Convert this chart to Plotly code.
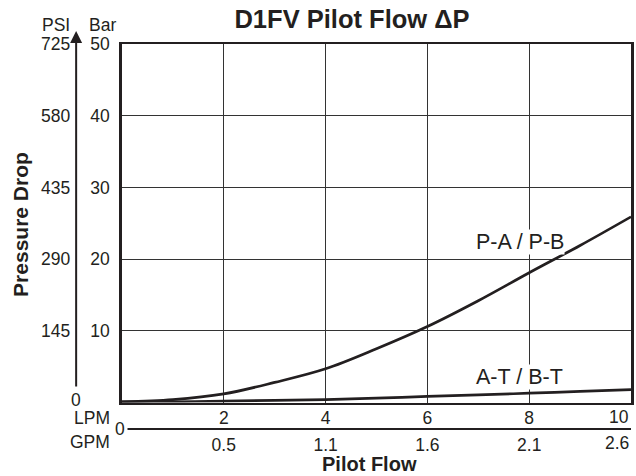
import plotly.graph_objects as go

# ---- data ----
lpm = [0, 1, 2, 3, 4, 5, 6, 7, 8, 9, 10]
pa_pb_bar = [0.1, 0.4, 1.2, 2.8, 4.7, 7.5, 10.6, 14.2, 18.1, 21.9, 25.9]
at_bt_bar = [0.1, 0.1, 0.2, 0.3, 0.4, 0.6, 0.85, 1.05, 1.3, 1.55, 1.8]

lpm_ticks = [2, 4, 6, 8, 10]
lpm_text = ["2", "4", "6", "8", "10"]
gpm_text = ["0.5", "1.1", "1.6", "2.1", "2.6"]
bar_ticks = [10, 20, 30, 40, 50]
psi_ticks = [145, 290, 435, 580, 725]

INK = "#231f20"
FONT = "Liberation Sans, Arial, Helvetica, sans-serif"

W, H = 636, 476
ML, MR, MT, MB = 2, 2, 44, 30
PW = W - ML - MR
PH = H - MT - MB


def px(x):
    return (x - ML) / PW


def py(y):
    return (H - MB - y) / PH


fig = go.Figure()
fig.add_trace(go.Scatter(x=lpm, y=pa_pb_bar, mode="lines", line=dict(color=INK, width=2.7, shape="spline"),
                         hoverinfo="skip", showlegend=False))
fig.add_trace(go.Scatter(x=lpm, y=at_bt_bar, mode="lines", line=dict(color=INK, width=2.7, shape="spline"),
                         hoverinfo="skip", showlegend=False))
# invisible trace to activate the secondary (GPM / PSI) axes
fig.add_trace(go.Scatter(x=[0, 10], y=[0, 725], xaxis="x2", yaxis="y2", mode="lines",
                         line=dict(width=0, color="rgba(0,0,0,0)"), hoverinfo="skip", showlegend=False))

TS = 17.5
tickfont = dict(family=FONT, size=TS, color=INK)

fig.update_layout(
    width=W, height=H,
    margin=dict(l=ML, r=MR, t=MT, b=MB),
    paper_bgcolor="white", plot_bgcolor="white",
    font=dict(family=FONT, color=INK),
    xaxis=dict(domain=[px(122.5), 1], range=[0, 10], tickvals=lpm_ticks[:-1],
               ticktext=lpm_text[:-1],
               tickfont=tickfont, ticks="", showgrid=True, gridcolor="#333333", gridwidth=1,
               showline=True, linecolor=INK, linewidth=2, mirror=True, zeroline=False,
               ticklabelstandoff=-2, anchor="y"),
    yaxis=dict(domain=[py(402.5), 1], range=[0, 50], tickvals=bar_ticks,
               tickfont=tickfont, ticks="", showgrid=True, gridcolor="#333333", gridwidth=1,
               showline=True, linecolor=INK, linewidth=2.5, mirror=True, zeroline=False,
               ticklabelstandoff=6, anchor="x"),
    xaxis2=dict(overlaying="x", anchor="free", position=py(429), range=[0, 10],
                tickvals=lpm_ticks[:-1], ticktext=gpm_text[:-1],
                tickfont=tickfont, ticks="",
                showgrid=False, showline=True, linecolor=INK, linewidth=2, zeroline=False,
                side="bottom", ticklabelstandoff=0),
    yaxis2=dict(overlaying="y", anchor="free", position=px(76.5), range=[0, 725],
                tickvals=psi_ticks, tickfont=tickfont, ticks="", showgrid=False,
                showline=False, zeroline=False, side="left", ticklabelstandoff=6),
    title=dict(text="<b>D1FV Pilot Flow \u0394P</b>", x=352 / W, xanchor="center", xref="container",
               y=1 - 19 / H, yanchor="middle", yref="container",
               font=dict(family=FONT, size=25.5, color=INK)),
)

ann = []
# PSI axis arrow
ann.append(dict(x=px(76.5), y=py(31), xref="paper", yref="paper", ax=0, ay=357, axref="pixel", ayref="pixel",
                text="", showarrow=True, arrowhead=2, arrowsize=1.2, arrowwidth=2, arrowcolor=INK, standoff=0))


def txt(s, x, y, size=TS, xanchor="center", **k):
    return dict(text=s, x=px(x), y=py(y), xref="paper", yref="paper", showarrow=False,
                xanchor=xanchor, yanchor="middle",
                font=dict(family=FONT, size=size, color=INK), **k)


ann.append(txt("PSI", 56, 25))
ann.append(txt("Bar", 103, 25))
ann.append(txt("0", 76.5, 400))
ann.append(txt("LPM", 113, 418, xanchor="right"))
ann.append(txt("GPM", 113, 442, xanchor="right"))
ann.append(txt("0", 121, 429, bgcolor="white", borderpad=2))
# last tick labels sit flush with the right frame edge in the reference
ann.append(txt(lpm_text[-1], 634, 417, xanchor="right"))
ann.append(txt(gpm_text[-1], 634, 443, xanchor="right"))
ann.append(txt("P-A / P-B", 522, 242, size=21.5, bgcolor="white", borderpad=0))
ann.append(txt("A-T / B-T", 522, 377, size=21.5, bgcolor="white", borderpad=0))
ann.append(txt("<b>Pilot Flow</b>", 371, 464, size=20))
ann.append(txt("<b>Pressure Drop</b>", 21, 224, size=21, textangle=-90))
fig.update_layout(annotations=ann)

fig.write_html("out.html", config={"displayModeBar": False},
               post_script="document.body.style.margin='0';document.body.style.overflow='hidden';")
